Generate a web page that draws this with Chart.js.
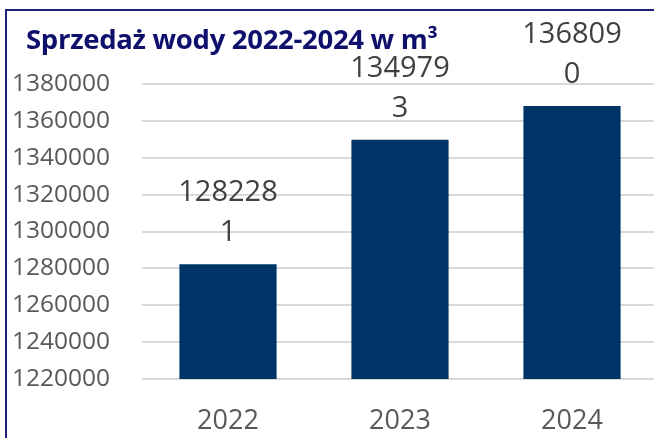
<!DOCTYPE html>
<html>
<head>
<meta charset="utf-8">
<script src="https://cdn.jsdelivr.net/npm/chart.js@4/dist/chart.umd.min.js"></script>
<style>
  html, body { margin: 0; padding: 0; background: #fff; width: 654px; height: 438px; overflow: hidden; }
  #wrap { position: relative; width: 654px; height: 438px; overflow: hidden; }
  #cv { position: absolute; left: 0; top: 0; }
  #frame { position: absolute; left: 5px; top: 9px; width: 700px; height: 500px;
           border-left: 2px solid #1e1e78; border-top: 2px solid #1e1e78; box-sizing: border-box; pointer-events: none; }
  #title { position: absolute; left: 26px; top: 21px; font-family: "Open Sans", sans-serif; font-weight: bold;
           font-size: 27.5px; line-height: 36px; color: #0f0f6c; white-space: nowrap; letter-spacing: -0.3px; }
  #chartbox { position: absolute; left: 0; top: 0; width: 670px; height: 438px; }
</style>
</head>
<body>
<div id="wrap">
  <div id="chartbox"><canvas id="cv" width="670" height="438"></canvas></div>
  <div id="frame"></div>
  <div id="title">Sprzedaż wody 2022-2024 w m³</div>
</div>
<script>
const categories = ['2022', '2023', '2024'];
const salesValues = [1282281, 1349793, 1368090];
const yTickMin = 1220000;
const yTickMax = 1380000;
const yTickStep = 20000;

const wrapLabels = {
  id: 'wrapLabels',
  afterDatasetsDraw(chart) {
    const ctx = chart.ctx;
    const meta = chart.getDatasetMeta(0);
    ctx.save();
    ctx.font = '29px "Open Sans", sans-serif';
    ctx.fillStyle = '#404040';
    ctx.textAlign = 'center';
    ctx.textBaseline = 'middle';
    meta.data.forEach((bar, i) => {
      const s = String(chart.data.datasets[0].data[i]);
      ctx.fillText(s.slice(0, 6), bar.x, bar.y - 71);
      ctx.fillText(s.slice(6), bar.x, bar.y - 31);
    });
    ctx.restore();
  }
};

new Chart(document.getElementById('cv'), {
  type: 'bar',
  data: {
    labels: categories,
    datasets: [{
      data: salesValues,
      backgroundColor: '#003466',
      borderWidth: 0,
      categoryPercentage: 1,
      barPercentage: 0.565
    }]
  },
  options: {
    responsive: false,
    animation: false,
    events: [],
    layout: { padding: { top: 84, right: 12, left: 0, bottom: 0 } },
    plugins: { legend: { display: false }, tooltip: { enabled: false }, title: { display: false } },
    scales: {
      x: {
        grid: { display: false, drawTicks: false },
        border: { display: false },
        ticks: { color: '#595959', font: { family: '"Open Sans", sans-serif', size: 27 }, padding: 26 },
        afterFit(scale) { scale.height = 59; }
      },
      y: {
        min: yTickMin,
        max: yTickMax,
        grid: { color: '#d9d9d9', lineWidth: 2, drawTicks: false },
        border: { display: false },
        ticks: {
          stepSize: yTickStep,
          color: '#595959',
          font: { family: '"Open Sans", sans-serif', size: 24.5 },
          padding: 32,
          callback: v => String(v)
        },
        afterFit(scale) { scale.width = 142; }
      }
    }
  },
  plugins: [wrapLabels]
});
</script>
</body>
</html>
